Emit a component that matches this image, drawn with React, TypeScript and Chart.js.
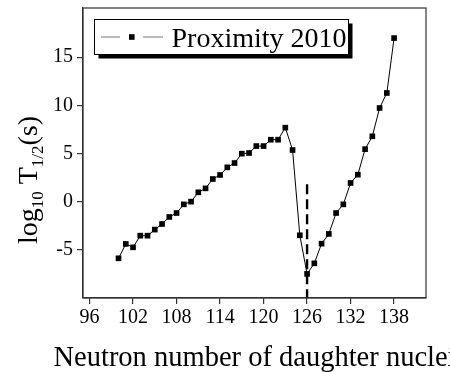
import { useEffect, useRef } from "react";
import { Chart, registerables } from "chart.js";

Chart.register(...registerables);

const neutronNumbers = [
  100, 101, 102, 103, 104, 105, 106, 107, 108, 109, 110, 111, 112, 113, 114, 115, 116, 117, 118, 119,
  120, 121, 122, 123, 124, 125, 126, 127, 128, 129, 130, 131, 132, 133, 134, 135, 136, 137, 138,
];
const logHalfLives = [
  -5.88, -4.39, -4.74, -3.53, -3.53, -2.9, -2.32, -1.59, -1.18, -0.28, 0.0, 0.97, 1.38, 2.35, 2.77, 3.56,
  4.01, 4.98, 5.05, 5.77, 5.77, 6.43, 6.43, 7.68, 5.36, -3.49, -7.5, -6.4, -4.36, -3.35, -1.18, -0.28,
  1.94, 2.8, 5.45, 6.78, 9.72, 11.28, 16.98,
];
const magicNumber = 126;
const magicLineYs = [1.8, -10];
const xTicks = [96, 102, 108, 114, 120, 126, 132, 138];
const yTicks = [-5, 0, 5, 10, 15];
const xRange = [95.1, 142.4];
const yRange = [-10, 20.1];
const seriesLabel = "Proximity 2010";
const xTitle = "Neutron number of daughter nuclei";

const FONT = "'Liberation Serif', 'Times New Roman', serif";

const decorPlugin = {
  id: "decor",
  afterDraw(chart: any) {
    const { ctx, chartArea } = chart;
    const { left, top, right, bottom } = chartArea;
    ctx.save();
    // frame
    ctx.strokeStyle = "#333";
    ctx.lineWidth = 1.2;
    ctx.strokeRect(left, top, right - left, bottom - top);

    // legend
    const bx = 94, by = 19, bw = 254, bh = 35;
    ctx.fillStyle = "#000";
    ctx.fillRect(bx + 4.5, by + 4.5, bw, bh);
    ctx.fillStyle = "#fff";
    ctx.fillRect(bx, by, bw, bh);
    ctx.strokeStyle = "#000";
    ctx.lineWidth = 1;
    ctx.strokeRect(bx + 0.5, by + 0.5, bw, bh);
    const ly = by + bh / 2 + 0.5;
    ctx.strokeStyle = "#777";
    ctx.lineWidth = 1.2;
    ctx.beginPath();
    ctx.moveTo(101, ly);
    ctx.lineTo(120, ly);
    ctx.moveTo(143, ly);
    ctx.lineTo(163, ly);
    ctx.stroke();
    ctx.fillStyle = "#000";
    ctx.fillRect(129, ly - 2.8, 5.6, 5.6);
    ctx.font = `28px ${FONT}`;
    ctx.textBaseline = "alphabetic";
    ctx.textAlign = "left";
    ctx.fillText(seriesLabel, 171.5, 46.5);

    // x title
    ctx.textAlign = "center";
    ctx.font = `28.5px ${FONT}`;
    ctx.fillText(xTitle, (left + right) / 2, 365.5);

    // y title with subscripts
    const parts: [string, boolean][] = [
      ["log", false],
      ["10", true],
      [" T", false],
      ["1/2", true],
      ["(s)", false],
    ];
    const mainF = `28px ${FONT}`;
    const subF = `17px ${FONT}`;
    let total = 0;
    const widths = parts.map(([t, sub]) => {
      ctx.font = sub ? subF : mainF;
      const w = ctx.measureText(t).width;
      total += w;
      return w;
    });
    ctx.translate(37, 180);
    ctx.rotate(-Math.PI / 2);
    ctx.textAlign = "left";
    let x = -total / 2;
    parts.forEach(([t, sub], i) => {
      ctx.font = sub ? subF : mainF;
      ctx.fillText(t, x, sub ? 6 : 0);
      x += widths[i];
    });
    ctx.restore();
  },
};

export default function App() {
  const ref = useRef<HTMLCanvasElement | null>(null);
  useEffect(() => {
    document.body.style.margin = "0";
    const canvas = ref.current;
    if (!canvas) return;
    const chart = new Chart(canvas, {
      type: "scatter",
      data: {
        datasets: [
          {
            label: seriesLabel,
            data: neutronNumbers.map((n, i) => ({ x: n, y: logHalfLives[i] })),
            showLine: true,
            borderColor: "#000",
            borderWidth: 1,
            backgroundColor: "#000",
            pointStyle: "rect",
            pointRadius: 4,
            pointBorderWidth: 0,
            pointBackgroundColor: "#000",
          },
          {
            label: "N=126",
            data: magicLineYs.map((y) => ({ x: magicNumber, y })),
            showLine: true,
            borderColor: "#000",
            borderWidth: 2.4,
            borderDash: [10, 5],
            pointRadius: 0,
          },
        ],
      },
      options: {
        animation: false,
        responsive: false,
        events: [],
        layout: { padding: { top: 8, right: 24, left: 0, bottom: 0 } },
        plugins: { legend: { display: false }, tooltip: { enabled: false } },
        scales: {
          x: {
            type: "linear",
            min: xRange[0],
            max: xRange[1],
            afterBuildTicks: (s: any) => {
              s.ticks = xTicks.map((v) => ({ value: v }));
            },
            afterFit: (s: any) => {
              s.height = 74;
              s.paddingLeft = 0;
              s.paddingRight = 0;
            },
            grid: { drawOnChartArea: false, drawTicks: true, tickLength: 6, color: "#333", lineWidth: 1.2 },
            border: { display: true, color: "#333", width: 1.2 },
            ticks: {
              color: "#000",
              font: { family: FONT, size: 20 },
              padding: 2,
              maxRotation: 0,
              autoSkip: false,
            },
          },
          y: {
            type: "linear",
            min: yRange[0],
            max: yRange[1],
            afterBuildTicks: (s: any) => {
              s.ticks = yTicks.map((v) => ({ value: v }));
            },
            afterFit: (s: any) => {
              s.width = 83;
              s.paddingTop = 0;
              s.paddingBottom = 0;
            },
            grid: { drawOnChartArea: false, drawTicks: true, tickLength: 6, color: "#333", lineWidth: 1.2 },
            border: { display: true, color: "#333", width: 1.2 },
            ticks: {
              color: "#000",
              font: { family: FONT, size: 20 },
              padding: 4,
              autoSkip: false,
            },
          },
        },
      },
      plugins: [decorPlugin],
    } as any);
    return () => chart.destroy();
  }, []);
  return (
    <div style={{ position: "absolute", left: 0, top: 0, width: 450, height: 372 }}>
      <canvas ref={ref} width={450} height={372} />
    </div>
  );
}
